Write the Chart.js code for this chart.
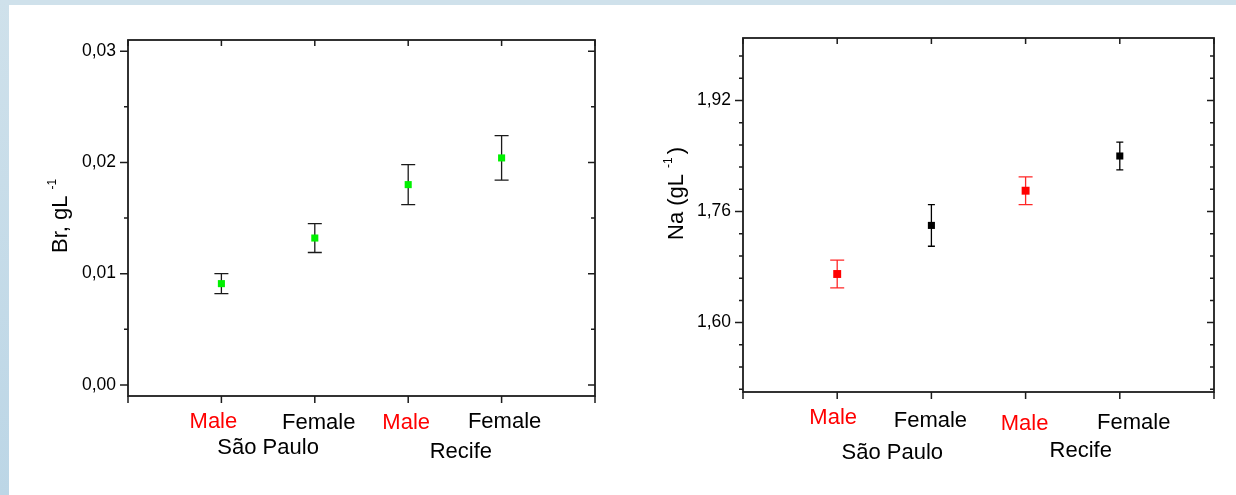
<!DOCTYPE html>
<html><head><meta charset="utf-8">
<script src="https://cdn.jsdelivr.net/npm/chart.js@4.4.1/dist/chart.umd.min.js"></script>
<style>
html,body{margin:0;padding:0;background:#fff;width:1236px;height:495px;overflow:hidden;position:relative}
#bandTop{position:absolute;left:0;top:0;width:1236px;height:5px;background:#cfe1eb}
#bandLeft{position:absolute;left:0;top:0;width:9px;height:495px;background:linear-gradient(#cfe1eb,#bcd6e6)}
canvas{position:absolute;top:0}
#c1{left:0}
#c2{left:618px}
</style></head><body>
<div id="bandTop"></div><div id="bandLeft"></div>
<canvas id="c1" width="618" height="495"></canvas>
<canvas id="c2" width="618" height="495"></canvas>
<script>
// ---------------- DATA ----------------
const categories = ['Male', 'Female', 'Male', 'Female'];
const groups = ['São Paulo', 'Recife'];
const groupOf = [0, 0, 1, 1];
const catPositions = [1, 2, 3, 4];
const xTickValues = [0, 1, 2, 3, 4, 5];

const brValues = [0.0091, 0.0132, 0.0180, 0.0204];
const brErrors = [0.0009, 0.0013, 0.0018, 0.0020];
const brTicks = [0.00, 0.01, 0.02, 0.03];
const brTickLabels = ['0,00', '0,01', '0,02', '0,03'];
const brMinorTicks = [0.005, 0.015, 0.025];

const naValues = [1.670, 1.740, 1.790, 1.840];
const naErrors = [0.020, 0.030, 0.020, 0.020];
const naTicks = [1.60, 1.76, 1.92];
const naTickLabels = ['1,60', '1,76', '1,92'];
const naMinorTicks = [1.504, 1.536, 1.568, 1.632, 1.664, 1.696, 1.728, 1.792, 1.824, 1.856, 1.888, 1.952, 1.984];

// ---------------- STYLE ----------------
const FONT = "'Liberation Sans', Arial, sans-serif";
const RED = '#ff0000';
const catColors = categories.map(c => c === 'Male' ? RED : '#000000');

function makeChart(id, cfg) {
  const pts = cfg.values.map((v, i) => ({ x: catPositions[i], y: v }));

  const decor = {
    id: 'decor_' + id,
    beforeDatasetsDraw(chart) {
      const { ctx, scales: { x, y } } = chart;
      ctx.save();
      cfg.values.forEach((v, i) => {
        const px = x.getPixelForValue(catPositions[i]);
        const yt = y.getPixelForValue(v + cfg.errors[i]);
        const yb = y.getPixelForValue(v - cfg.errors[i]);
        const cap = cfg.capWidths[i] / 2;
        ctx.strokeStyle = cfg.errColors[i];
        ctx.lineWidth = 1.3;
        ctx.beginPath();
        ctx.moveTo(px, yt); ctx.lineTo(px, yb);
        ctx.moveTo(px - cap, yt); ctx.lineTo(px + cap, yt);
        ctx.moveTo(px - cap, yb); ctx.lineTo(px + cap, yb);
        ctx.stroke();
      });
      ctx.restore();
    },
    afterDraw(chart) {
      const { ctx, chartArea: a, scales: { x, y } } = chart;
      ctx.save();
      // frame
      ctx.strokeStyle = '#1c1c1c';
      ctx.lineWidth = 1.8;
      ctx.strokeRect(a.left, a.top, a.right - a.left, a.bottom - a.top);
      ctx.lineWidth = 1.5;
      ctx.beginPath();
      xTickValues.forEach(v => {
        const px = x.getPixelForValue(v);
        ctx.moveTo(px, a.bottom); ctx.lineTo(px, a.bottom + 7);
        ctx.moveTo(px, a.top); ctx.lineTo(px, a.top + 6);
      });
      cfg.yTicks.forEach(v => {
        const py = y.getPixelForValue(v);
        ctx.moveTo(a.left - 8, py); ctx.lineTo(a.left, py);
        ctx.moveTo(a.right - 7, py); ctx.lineTo(a.right, py);
      });
      cfg.yMinor.forEach(v => {
        const py = y.getPixelForValue(v);
        ctx.moveTo(a.left - 4, py); ctx.lineTo(a.left, py);
        ctx.moveTo(a.right - 4, py); ctx.lineTo(a.right, py);
      });
      ctx.stroke();

      // category labels
      ctx.font = '22px ' + FONT;
      ctx.textAlign = 'center';
      ctx.textBaseline = 'middle';
      categories.forEach((c, i) => {
        const px = x.getPixelForValue(catPositions[i]) + cfg.labelNudgeX[i];
        ctx.fillStyle = catColors[i];
        ctx.fillText(c, px, a.bottom + cfg.labelDy[i]);
      });
      // group labels
      ctx.fillStyle = '#000';
      groups.forEach((g, gi) => {
        const members = catPositions.filter((p, i) => groupOf[i] === gi);
        const mid = members.reduce((s, p) => s + p, 0) / members.length;
        const px = x.getPixelForValue(mid) + cfg.groupNudgeX[gi];
        ctx.fillText(g, px, a.bottom + cfg.groupDy[gi]);
      });

      // axis title (rotated) with superscript
      ctx.translate(cfg.titleX, cfg.titleY);
      ctx.rotate(-Math.PI / 2);
      ctx.textAlign = 'left';
      ctx.textBaseline = 'alphabetic';
      ctx.font = '22px ' + FONT;
      ctx.fillText(cfg.titleMain, 0, 0);
      let w = ctx.measureText(cfg.titleMain).width + 6;
      ctx.font = '12px ' + FONT;
      ctx.fillText('-1', w, -11);
      w += ctx.measureText('-1').width + 3;
      if (cfg.titleEnd) {
        ctx.font = '22px ' + FONT;
        ctx.fillText(cfg.titleEnd, w, 0);
      }
      ctx.restore();
    }
  };

  return new Chart(document.getElementById(id), {
    type: 'scatter',
    data: {
      datasets: [{
        data: pts,
        pointStyle: 'rect',
        pointRadius: cfg.pointRadii,
        pointHoverRadius: cfg.pointRadii,
        pointBackgroundColor: cfg.markerColors,
        pointBorderWidth: 0,
        showLine: false
      }]
    },
    options: {
      responsive: false,
      animation: false,
      devicePixelRatio: 1,
      events: [],
      layout: { padding: cfg.padding },
      plugins: { legend: { display: false }, tooltip: { enabled: false } },
      scales: {
        x: {
          type: 'linear', min: 0, max: 5,
          grid: { display: false, drawTicks: false }, border: { display: false },
          ticks: { display: false },
          afterBuildTicks: s => { s.ticks = xTickValues.map(v => ({ value: v })); },
          afterFit: s => { s.height = cfg.xHeight; }
        },
        y: {
          type: 'linear', min: cfg.yMin, max: cfg.yMax,
          grid: { display: false, drawTicks: false }, border: { display: false },
          ticks: {
            color: '#000', padding: 12,
            font: { family: FONT, size: 17.5 },
            callback: (v, i) => cfg.yTickLabels[i]
          },
          afterBuildTicks: s => { s.ticks = cfg.yTicks.map(v => ({ value: v })); },
          afterFit: s => { s.width = cfg.yWidth; }
        }
      }
    },
    plugins: [decor]
  });
}

makeChart('c1', {
  values: brValues, errors: brErrors,
  yMin: -0.001, yMax: 0.031,
  yTicks: brTicks, yTickLabels: brTickLabels, yMinor: brMinorTicks,
  padding: { left: 0, top: 40, right: 23, bottom: 0 },
  yWidth: 128, xHeight: 99,
  pointRadii: [5, 5, 5, 5],
  markerColors: ['#00f000', '#00f000', '#00f000', '#00f000'],
  errColors: ['#1a1a1a', '#1a1a1a', '#1a1a1a', '#1a1a1a'],
  capWidths: [14, 14, 14, 14],
  labelNudgeX: [-8, 4, -2, 3],
  labelDy: [26, 27, 27, 26],
  groupNudgeX: [0, 6],
  groupDy: [52, 56],
  titleX: 67, titleY: 253,
  titleMain: 'Br, gL', titleEnd: ''
});

makeChart('c2', {
  values: naValues, errors: naErrors,
  yMin: 1.50, yMax: 2.01,
  yTicks: naTicks, yTickLabels: naTickLabels, yMinor: naMinorTicks,
  padding: { left: 0, top: 38, right: 22, bottom: 0 },
  yWidth: 125, xHeight: 103,
  pointRadii: [5.6, 5, 5.6, 5],
  markerColors: catColors,
  errColors: ['rgba(255,0,0,0.85)', '#000', 'rgba(255,0,0,0.85)', '#000'],
  capWidths: [14, 7, 14, 7],
  labelNudgeX: [-4, -1, -1, 14],
  labelDy: [26, 29, 32, 31],
  groupNudgeX: [8, 8],
  groupDy: [61, 59],
  titleX: 65, titleY: 240,
  titleMain: 'Na (gL', titleEnd: ')'
});
</script></body></html>
